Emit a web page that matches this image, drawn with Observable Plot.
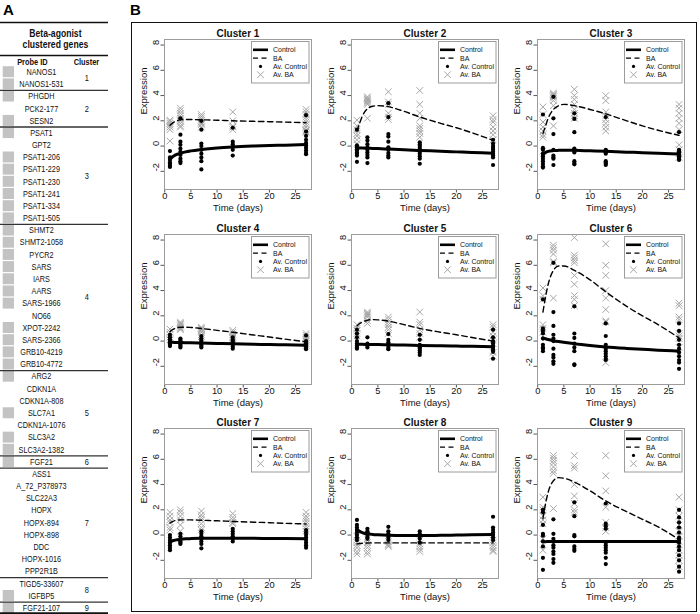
<!DOCTYPE html>
<html><head><meta charset="utf-8">
<script src="https://cdn.jsdelivr.net/npm/d3@7"></script>
<script src="https://cdn.jsdelivr.net/npm/@observablehq/plot@0.6"></script>
<style>
body{margin:0;background:#fff;}
#root{position:relative;width:700px;height:614px;overflow:hidden;font-family:"Liberation Sans",Arial,sans-serif;background:#fff;}
</style></head><body><div id="root"></div>
<script>
// ---------------- Panel A data ----------------
const probes = ["NANOS1","NANOS1-531","PHGDH","PCK2-177","SESN2","PSAT1","GPT2","PSAT1-206","PSAT1-229","PSAT1-230","PSAT1-241","PSAT1-334","PSAT1-505","SHMT2","SHMT2-1058","PYCR2","SARS","IARS","AARS","SARS-1966","NO66","XPOT-2242","SARS-2366","GRB10-4219","GRB10-4772","ARG2","CDKN1A","CDKN1A-808","SLC7A1","CDKN1A-1076","SLC3A2","SLC3A2-1382","FGF21","ASS1","A_72_P378973","SLC22A3","HOPX","HOPX-894","HOPX-898","DDC","HOPX-1016","PPP2R1B","TIGD5-33607","IGFBP5","FGF21-107"];
const probeCluster = [1,1,2,2,2,3,3,3,3,3,3,3,3,4,4,4,4,4,4,4,4,4,4,4,4,5,5,5,5,5,5,5,6,7,7,7,7,7,7,7,7,7,8,8,9];
const probeMarked = [1,1,1,0,1,1,0,1,1,1,1,1,1,1,1,1,1,1,1,1,0,1,1,1,1,1,0,0,1,0,1,1,1,0,0,0,0,0,0,0,0,0,0,1,1];
const tableTitle = ["Beta-agonist","clustered genes"];
const tableHeader = ["Probe ID","Cluster"];

// ---------------- Panel B data ----------------
const clusterNames = ["Cluster 1","Cluster 2","Cluster 3","Cluster 4","Cluster 5","Cluster 6","Cluster 7","Cluster 8","Cluster 9"];
const times = [1,3,7,13,27];
const xTicks = [0,5,10,15,20,25];
const yTicks = [-2,0,2,4,6,8];
const legendLabels = ["Control","BA","Av. Control","Av. BA"];
const curveTimes = [1,1.5,2,3,4,5,7,10,13,17,20,23,27];

const controlCurves = [
  [-1.05,-0.85,-0.72,-0.58,-0.46,-0.38,-0.27,-0.15,-0.07,0.0,0.04,0.07,0.12],
  [-0.15,-0.16,-0.16,-0.17,-0.19,-0.2,-0.24,-0.3,-0.35,-0.41,-0.46,-0.51,-0.57],
  [-0.65,-0.5,-0.42,-0.36,-0.34,-0.33,-0.34,-0.38,-0.42,-0.48,-0.52,-0.57,-0.62],
  [-0.1,-0.1,-0.11,-0.12,-0.13,-0.14,-0.16,-0.19,-0.22,-0.25,-0.28,-0.3,-0.33],
  [-0.25,-0.25,-0.26,-0.27,-0.28,-0.28,-0.3,-0.32,-0.35,-0.38,-0.4,-0.42,-0.45],
  [0.25,0.18,0.12,0.03,-0.04,-0.1,-0.22,-0.36,-0.47,-0.58,-0.65,-0.72,-0.8],
  [-0.55,-0.45,-0.4,-0.34,-0.3,-0.28,-0.26,-0.25,-0.25,-0.26,-0.27,-0.28,-0.3],
  [0.45,0.3,0.2,0.1,0.05,0.02,-0.02,-0.04,-0.04,-0.02,0.0,0.02,0.05],
  [-0.52,-0.52,-0.51,-0.51,-0.5,-0.5,-0.5,-0.5,-0.5,-0.5,-0.5,-0.5,-0.5]
];
const baCurves = [
  [1.65,1.82,1.95,2.07,2.1,2.1,2.08,2.05,2.0,1.96,1.93,1.9,1.85],
  [1.2,1.8,2.35,2.95,3.15,3.2,3.12,2.75,2.3,1.8,1.45,1.05,0.45],
  [1.0,1.6,2.2,2.9,3.2,3.3,3.2,2.9,2.55,2.0,1.6,1.25,0.85],
  [0.75,0.9,1.0,1.1,1.1,1.08,1.0,0.85,0.7,0.48,0.32,0.15,-0.05],
  [1.2,1.38,1.5,1.65,1.7,1.68,1.58,1.3,1.0,0.7,0.5,0.28,0.0],
  [2.3,3.5,4.5,5.6,5.95,5.95,5.6,4.85,3.9,2.75,2.0,1.3,0.25],
  [0.95,1.07,1.15,1.2,1.2,1.2,1.17,1.13,1.08,1.02,0.98,0.93,0.88],
  [-0.7,-0.67,-0.65,-0.63,-0.62,-0.62,-0.62,-0.62,-0.62,-0.62,-0.62,-0.62,-0.62],
  [1.3,2.5,3.4,4.3,4.55,4.5,4.2,3.5,2.7,1.85,1.25,0.65,-0.35]
];
// Av. Control values, per cluster, per time point (1,3,7,13,27)
const controlPoints = [
  [[-0.4,-0.9,-1.1,-1.3,-1.4,-1.55,-1.65],[2.2,0.9,0.35,0.1,-0.2,-0.45,-0.7,-1.0,-1.2,-1.35],[2.0,1.3,0.2,0.0,-0.3,-0.6,-0.9,-1.2,-1.85],[1.45,0.35,0.15,-0.05,-0.3,-0.75],[2.45,1.15,0.8,0.5,0.25,0.05,-0.15,-0.35,-0.55,-0.65]],
  [[1.3,0.05,-0.1,-0.25,-0.35,-0.5,-0.6,-0.75,-1.25],[0.7,0.45,0.15,-0.1,-0.3,-0.5,-0.7,-0.9,-1.35],[3.4,2.3,0.95,0.75,0.35,-0.1,-0.3,-0.55,-0.75,-0.9],[0.3,0.15,0,-0.15,-0.3,-0.45,-0.6,-0.8,-1.0,-1.4],[0.5,0.2,0,-0.15,-0.3,-0.45,-0.6,-0.75,-0.9,-1.5]],
  [[2.5,-0.15,-0.3,-0.6,-0.8,-1.0,-1.2,-1.4,-1.6,-1.7],[3.9,2.2,0.95,-0.3,-0.75,-0.9,-1.0,-1.5],[2.6,2.15,1.1,-0.2,-0.3,-0.4,-0.5,-1.2,-1.35,-1.45],[2.3,-0.3,-0.4,-0.5,-0.6,-1.2,-1.3,-1.4,-1.5],[1.1,-0.3,-0.4,-0.5,-0.6,-0.7,-0.8,-0.9,-1.0,-1.1]],
  [[0.5,0.3,0.15,0,-0.1,-0.2,-0.3,-0.4],[0.2,0.1,0,-0.1,-0.2,-0.3,-0.4,-0.5],[0.4,0.2,0.05,-0.1,-0.2,-0.3,-0.4,-0.5],[0.3,0.1,0,-0.1,-0.2,-0.3,-0.45,-0.6],[0.45,0,-0.15,-0.25,-0.35,-0.45,-0.55,-0.65]],
  [[0.9,0.6,0.3,0,-0.2,-0.35,-0.5,-0.6],[0.3,-0.2,-0.35,-0.5],[0.55,0.1,-0.1,-0.25,-0.4,-0.55,-0.65],[0.5,0.1,-0.3,-0.5,-0.6,-0.75,-0.9,-1.1],[0.9,0.3,0,-0.2,-0.4,-0.55,-0.7,-0.85,-1.4]],
  [[3.3,1.0,0.8,0.6,0.2,-0.3,-0.5,-0.6,-0.8],[6.2,2.3,1.2,0.5,0.2,0,-0.6,-1.1,-1.3,-1.6,-1.8],[2.75,0.6,0.25,-0.2,-0.5,-0.8,-1.85,-1.9],[1.4,0.4,-0.3,-0.6,-0.8,-1.0,-1.2,-1.4,-1.5],[1.4,0.8,0.1,-0.3,-0.6,-0.9,-1.2,-1.5,-1.7,-2.2]],
  [[0,-0.2,-0.4,-0.6,-0.8,-1.0,-1.2],[0.1,-0.1,-0.3,-0.5,-0.6,-0.7],[0.3,0.1,-0.1,-0.3,-0.5,-0.7,-1.05],[0.5,0.3,0.1,-0.1,-0.3,-0.5],[0.4,0.2,0,-0.2,-0.4,-0.6,-0.8,-1.0]],
  [[1.2,0.8,0.6,0.4,0.2,0,-0.2,-0.4],[0.5,0.3,0.2,0.1,0,-0.2,-0.3],[0.65,0.3,0.1,0,-0.2,-0.4],[0.3,0.1,0,-0.1,-0.3,-0.6],[1.45,0.6,0.4,0.2,0,-0.2,-0.4]],
  [[2.0,1.8,0.8,0.1,-0.05,-0.5,-0.9,-1.8,-2.75],[1.25,0.1,-0.3,-0.8,-1.0,-1.3,-1.5,-1.9,-2.2],[2.6,1.5,0.0,-0.1,-0.9,-1.1,-1.25],[2.5,0.9,0.7,0.5,-0.6,-0.8,-1.0,-1.2,-1.4,-1.8,-2.3],[2.0,1.4,1.0,0.6,0.2,-0.2,-0.4,-0.6,-0.9,-1.2,-1.6,-2.0,-2.5,-2.9]]
];
// Av. BA values, per cluster, per time point (1,3,7,13,27)
const baPoints = [
  [[0.4,1.3,1.5,1.65,1.8,1.95,2.05],[1.5,1.6,1.8,2.0,2.2,2.4,2.6,2.8,3.0],[1.5,1.7,1.8,1.9,2.05,2.2,2.35,2.5],[1.3,1.5,1.6,2.0,2.7],[1.1,1.2,1.3,1.5,1.7,1.9,2.1,2.3,2.5,2.7,2.9]],
  [[2.05,1.6,1.3,1.0,0.8,0.5,0.2],[3.9,3.8,3.7,3.6,3.5,3.4,3.3,2.2],[4.3,3.5,3.3,2.6,2.3,2.1],[4.4,3.3,2.6,2.2,1.6,1.4,1.2,1.0,0.7],[2.4,2.1,1.9,1.5,1.2,0.9,0.5]],
  [[3.1,2.5,1.9,1.5,1.2,0.9,0.7,-0.4],[4.2,4.1,4.0,3.9,3.8,3.6,3.2,1.6],[4.5,4.0,3.7,3.3,2.9,2.6,2.4,2.2],[4.0,3.6,2.7,2.4,2.1,1.8,1.5,1.2],[3.3,3.0,2.6,2.2,1.8,1.3,0.1,-0.3,-0.6,-0.9]],
  [[0.95,0.7,0.5,0.3,0.1],[1.5,1.4,1.3,1.2,1.1,1.0,0.9],[1.1,1.0,0.9,0.8,0.7,0.5,0.35],[0.85,0.7,0.55,0.4,0.3,0.2],[0.6,0.45,0.3,0.15,0,-0.2,-0.35]],
  [[1.3,1.0,0.8,0.6,0.4],[2.3,2.2,2.1,2.0,1.9,1.6,1.4],[1.9,1.7,1.5,1.3,1.1,0.9,0.6],[2.3,1.5,1.3,0.9,0.6,0.3],[1.3,1.1,0.7,0.4,0.1,-0.2,-0.9,-1.2]],
  [[4.2,3.6,3.3,1.3,1.0,0.7],[7.6,7.4,7.2,6.9,6.3,6.2,3.4],[8.2,6.8,6.6,6.4,6.2,5.2,4.5,3.6,3.3,2.8],[7.7,6.0,5.2,4.0,3.4,2.5,1.6,1.5,-1.7],[3.0,2.8,1.9,1.7,0.6,0.4,0.2,-0.5]],
  [[1.8,1.5,1.2,1.0,0.6,0.4],[2.0,1.8,1.5,1.2,0.8,0.3],[1.9,1.6,1.4,1.2,0.9,0.6,0.4],[1.7,1.4,1.2,1.0,0.9],[1.8,1.5,1.3,1.1,0.9,0.7,0.5,0.3]],
  [[-0.1,-0.4,-0.6,-0.8,-1.0,-1.3,-1.5],[-0.3,-0.6,-0.8,-1.0,-1.3,-1.5],[-0.5,-0.7,-0.8,-0.9],[-0.4,-0.7,-0.9,-1.1,-1.3],[-0.4,-0.6,-0.8,-1.0,-1.2,-1.3]],
  [[3.0,2.2,2.0,1.5,1.2,0.9,-0.3,-1.2],[6.3,6.1,5.9,5.7,5.4,5.1,4.9,2.1],[6.3,5.5,5.3,4.0,3.1,2.5,2.0,1.8],[6.3,4.7,3.5,2.2,1.0,0.6,0.3],[3.0,2.0,1.5,0.8,0.3,-0.1,-0.5,-1.2,-1.6,-2.0,-2.5]]
];

// ---------------- layout ----------------
const root = document.getElementById("root");
function place(el, left, top) {
  el.style.position = "absolute"; el.style.left = left + "px"; el.style.top = top + "px";
  root.appendChild(el); return el;
}
const sans = "'Liberation Sans',Arial,Helvetica,sans-serif";

// panel letters
function letter(txt, left, top) {
  const d = document.createElement("div");
  d.textContent = txt;
  d.style.font = "bold 15px " + sans; d.style.lineHeight = "15px";
  return place(d, left, top);
}
letter("A", 3, 1.5);
letter("B", 130, 1.5);

// ---------------- Panel A (table) ----------------
// The table font is a condensed sans: draw at full width, then compress horizontally.
const sx = 0.846;
const rows = probes.map((p, i) => ({i, p, g: probeCluster[i], m: probeMarked[i]}));
const groups = d3.groups(rows, d => d.g).map(([g, rs]) => ({g, start: rs[0].i, end: rs[rs.length - 1].i}));
const tableA = Plot.plot({
  width: 110 / sx, height: 614, margin: 0,
  x: {domain: [0, 110], range: [0, 110 / sx], axis: null},
  y: {domain: [0, 44], range: [71.7, 607.7], axis: null},
  style: {fontFamily: sans, background: "transparent", color: "#111"},
  marks: [
    Plot.rect(rows.filter(d => d.m), {x1: 2.7, x2: 14, y1: d => d.i - 0.45, y2: d => d.i + 0.45, fill: "#c3c3c3"}),
    Plot.text(rows, {x: 41, y: "i", text: "p", fontSize: 8.6, fill: "#111"}),
    Plot.text(groups, {x: 86.5, y: d => (d.start + d.end) / 2, text: d => String(d.g), fontSize: 8.8, fill: "#111"}),
    Plot.text(tableTitle, {x: 55, y: (d, i) => [-3.15, -2.28][i], text: d => d, fontSize: 10.2, fontWeight: "bold", fill: "#111"}),
    Plot.text(tableHeader, {x: (d, i) => [32, 86][i], y: -0.8, text: d => d, fontSize: 8.8, fontWeight: "bold", fill: "#111"}),
    Plot.ruleY(groups.slice(1).map(d => d.start - 0.5), {x1: 0, x2: 108, stroke: "#333", strokeWidth: 1.3}),
    Plot.ruleY([-4.08, -1.37], {x1: 0, x2: 108, stroke: "#111", strokeWidth: 1.6}),
    Plot.ruleY([44.42], {x1: 0, x2: 108, stroke: "#111", strokeWidth: 2})
  ]
});
tableA.style.transform = `scaleX(${sx})`;
tableA.style.transformOrigin = "0 0";
place(tableA, 0, 0);

// ---------------- Panel B ----------------
const box = document.createElement("div");
box.style.width = "566px"; box.style.height = "590px"; box.style.border = "1.6px solid #111"; box.style.boxSizing = "border-box";
place(box, 131, 21.5);

const colLeft = [163.5, 350.5, 537];
const rowTop = [38.5, 233.5, 428];
const fw = 147, fh = 150;
const mL = 40, mR = 6, mT = 18, mB = 34;
const xDomain = [-0.04, 28.04];
const yDomain = [-3.44, 8.44];
const baGray = "#a6a6a6";

clusterNames.forEach((name, k) => {
  const c = k % 3, r = Math.floor(k / 3);
  const ctrlPts = [], baPts = [];
  times.forEach((t, j) => {
    controlPoints[k][j].forEach(v => ctrlPts.push({t, v}));
    baPoints[k][j].forEach(v => baPts.push({t, v}));
  });
  const ctrlCurve = curveTimes.map((t, j) => ({t, v: controlCurves[k][j]}));
  const baCurve = curveTimes.map((t, j) => ({t, v: baCurves[k][j]}));
  const svg = Plot.plot({
    width: mL + fw + mR, height: mT + fh + mB,
    marginLeft: mL, marginRight: mR, marginTop: mT, marginBottom: mB,
    x: {domain: xDomain, ticks: xTicks, tickSize: 3.5, tickFormat: () => "", label: null},
    y: {domain: yDomain, ticks: yTicks, tickSize: 3.5, tickFormat: () => "", label: null},
    style: {fontFamily: sans, color: "#555", background: "transparent", overflow: "visible"},
    marks: [
      Plot.frame({stroke: "#9c9c9c", strokeWidth: 1}),
      Plot.dot(baPts, {x: "t", y: "v", symbol: "times", r: 3.1, stroke: baGray, strokeWidth: 1}),
      Plot.dot(ctrlPts, {x: "t", y: "v", r: 2.1, fill: "#000", stroke: "none"}),
      Plot.line(baCurve, {x: "t", y: "v", curve: "monotone-x", stroke: "#000", strokeWidth: 1.4, strokeDasharray: "5.5,3.5"}),
      Plot.line(ctrlCurve, {x: "t", y: "v", curve: "monotone-x", stroke: "#000", strokeWidth: 3}),
      Plot.text(xTicks, {x: d => d, text: d => String(d), frameAnchor: "bottom", dy: 7, lineAnchor: "middle", fontSize: 9.3, fill: "#111"}),
      Plot.text(yTicks, {y: d => d, text: d => String(d), frameAnchor: "left", dx: -8, rotate: -90, lineAnchor: "middle", fontSize: 9.3, fill: "#111"}),
      Plot.text([name], {text: d => d, frameAnchor: "top", dy: -5.5, lineAnchor: "middle", fontSize: 10, fontWeight: "bold", fill: "#111"}),
      Plot.text(["Time (days)"], {text: d => d, frameAnchor: "bottom", dy: 18.5, lineAnchor: "middle", fontSize: 9.5, fill: "#111"}),
      Plot.text(["Expression"], {text: d => d, frameAnchor: "left", dx: -21, rotate: -90, lineAnchor: "middle", fontSize: 9.5, fill: "#111"})
    ]
  });
  place(svg, colLeft[c] - mL, rowTop[r] - mT);

  // legend (R-style boxed legend, top right)
  const lw = 57.5, lh = 41.5, rowH = 8.3;
  const lg = d3.create("svg").attr("width", lw + 1).attr("height", lh + 1).style("overflow", "visible");
  lg.append("rect").attr("x", 0.5).attr("y", 0.5).attr("width", lw).attr("height", lh)
    .attr("fill", "#fff").attr("stroke", "#9c9c9c").attr("stroke-width", 1);
  legendLabels.forEach((lab, i) => {
    const y = 0.5 + rowH * (i + 1);
    if (i === 0) lg.append("line").attr("x1", 2).attr("x2", 17).attr("y1", y).attr("y2", y).attr("stroke", "#000").attr("stroke-width", 2.6);
    if (i === 1) lg.append("line").attr("x1", 2).attr("x2", 17).attr("y1", y).attr("y2", y).attr("stroke", "#000").attr("stroke-width", 1.3).attr("stroke-dasharray", "5,3.5");
    if (i === 2) lg.append("circle").attr("cx", 9.5).attr("cy", y).attr("r", 1.6).attr("fill", "#000");
    if (i === 3) lg.append("path").attr("d", d3.symbol(d3.symbolTimes, Math.PI * 3.1 * 3.1)()).attr("transform", `translate(9.5,${y})`).attr("stroke", baGray).attr("fill", "none");
    lg.append("text").attr("x", 22).attr("y", y).attr("dy", "0.35em").attr("font-size", 7).attr("font-family", sans).attr("fill", "#111").text(lab);
  });
  place(lg.node(), colLeft[c] + fw - 2.5 - lw, rowTop[r] + 2);
});
</script>
</body></html>
